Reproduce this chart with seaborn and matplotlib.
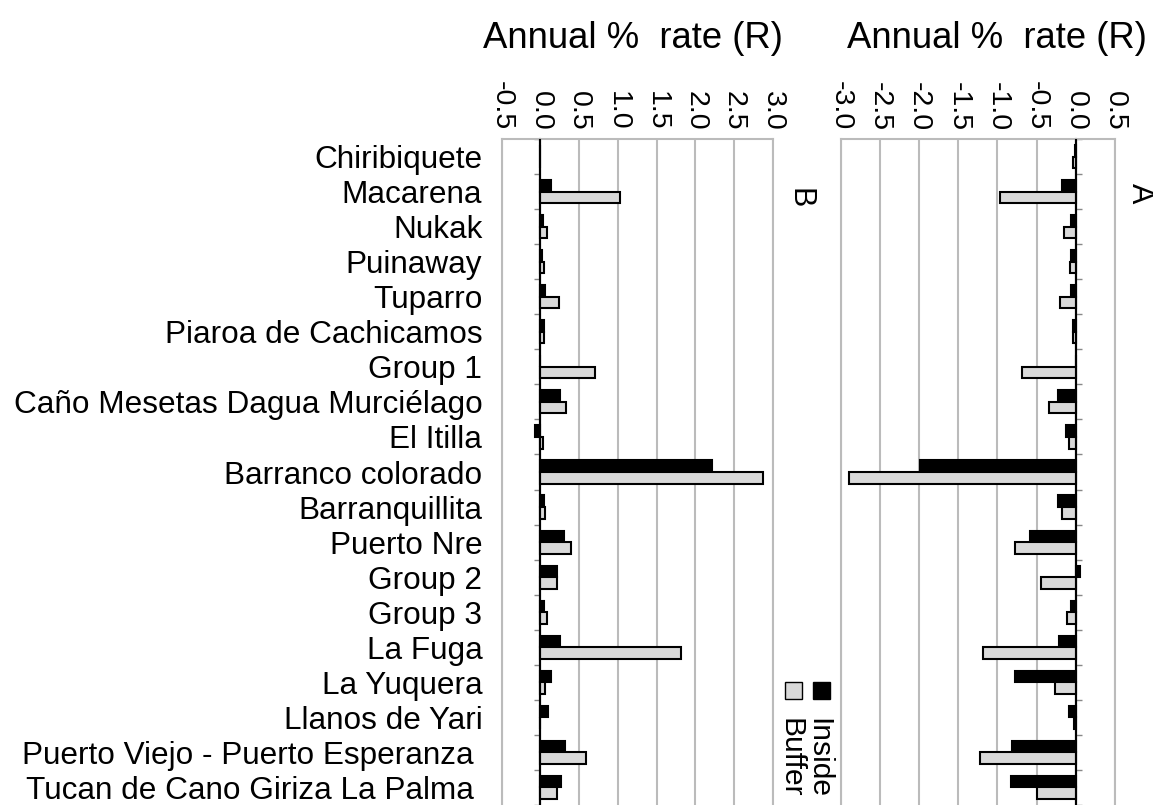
import matplotlib
matplotlib.use("Agg")
import matplotlib.pyplot as plt
import seaborn as sns
import pandas as pd
from matplotlib.patches import Rectangle

sites = ["Chiribiquete", "Macarena", "Nukak", "Puinaway", "Tuparro",
         "Piaroa de Cachicamos", "Group 1", "Caño Mesetas Dagua Murciélago",
         "El Itilla", "Barranco colorado", "Barranquillita", "Puerto Nre",
         "Group 2", "Group 3", "La Fuga", "La Yuquera", "Llanos de Yari",
         "Puerto Viejo - Puerto Esperanza ", "Tucan de Cano Giriza La Palma "]

b_inside = [0.0, 0.14, 0.03, 0.02, 0.06, 0.04, 0.0, 0.25, -0.07, 2.21,
            0.05, 0.30, 0.22, 0.05, 0.25, 0.14, 0.10, 0.32, 0.26]
b_buffer = [0.0, 1.03, 0.08, 0.04, 0.24, 0.04, 0.71, 0.33, 0.03, 2.87,
            0.06, 0.39, 0.21, 0.08, 1.82, 0.06, 0.0, 0.59, 0.21]

a_inside = [-0.01, -0.17, -0.06, -0.06, -0.06, -0.03, 0.0, -0.23, -0.13, -1.99,
            -0.23, -0.59, 0.05, -0.06, -0.21, -0.78, -0.09, -0.81, -0.83]
a_buffer = [-0.03, -0.97, -0.15, -0.07, -0.20, -0.03, -0.69, -0.34, -0.09, -2.89,
            -0.18, -0.77, -0.45, -0.11, -1.19, -0.26, -0.02, -1.22, -0.50]

series = ["Inside", "Buffer"]
b_ticks = [-0.5, 0.0, 0.5, 1.0, 1.5, 2.0, 2.5, 3.0]
a_ticks = [-3.0, -2.5, -2.0, -1.5, -1.0, -0.5, 0.0, 0.5]
title_text = "Annual %  rate (R)"

sns.set_theme(style="white")
plt.rcParams["font.family"] = ["Liberation Sans", "DejaVu Sans"]
plt.rcParams["axes.unicode_minus"] = False
plt.rcParams["text.color"] = "black"
plt.rcParams["xtick.color"] = "black"
plt.rcParams["ytick.color"] = "black"
plt.rcParams["xtick.labelcolor"] = "black"
plt.rcParams["ytick.labelcolor"] = "black"

W, H = 1153, 805
fig = plt.figure(figsize=(W / 100, H / 100), dpi=100)

GRID = "#BBBBBB"
colors = {"Inside": "black", "Buffer": "#D9D9D9"}


def make_df(inside, buffer):
    return pd.DataFrame({
        "site": sites * 2,
        "rate": list(inside) + list(buffer),
        "type": ["Inside"] * len(sites) + ["Buffer"] * len(sites),
    })


def panel(rect, inside, buffer, ticks, show_labels):
    ax = fig.add_axes(rect)
    sns.barplot(data=make_df(inside, buffer), y="site", x="rate", hue="type",
                order=sites, hue_order=series, palette=colors, orient="h",
                width=0.66, saturation=1, edgecolor="black", linewidth=1.5,
                legend=False, ax=ax, zorder=2)
    ax.set_xlim(ticks[0], ticks[-1])
    ax.set_ylim(len(sites) - 0.5, -0.5)
    ax.set_xlabel("")
    ax.set_ylabel("")
    ax.xaxis.set_ticks_position("top")
    ax.set_xticks(ticks)
    ax.set_xticklabels([f"{t:.1f}" for t in ticks], rotation=-90,
                       fontsize=20.5, va="bottom", ha="center", color="black")
    ax.tick_params(axis="x", length=0, pad=6)
    ax.grid(axis="x", color=GRID, linewidth=1.5)
    ax.set_axisbelow(True)
    for side in ["top", "left", "right"]:
        ax.spines[side].set_color(GRID)
        ax.spines[side].set_linewidth(1.5)
    ax.spines["bottom"].set_visible(False)
    ax.tick_params(axis="y", length=0)
    ax.set_yticks(range(len(sites)))
    if show_labels:
        ax.set_yticklabels(sites, fontsize=22.7, color="black")
        ax.tick_params(axis="y", pad=14)
    else:
        ax.set_yticklabels([])
    # zero line with band-boundary ticks
    loc = (0 - ticks[0]) / (ticks[-1] - ticks[0])
    sec = ax.secondary_yaxis(loc)
    sec.set_yticks([i + 0.5 for i in range(-1, len(sites))])
    sec.tick_params(axis="y", length=4, width=1, color="#888888",
                    direction="out", labelleft=False, labelright=False)
    for s in sec.spines.values():
        s.set_color("black")
        s.set_linewidth(1.5)
    ax.axvline(0, color="black", linewidth=1.5, zorder=3)
    return ax


top_px = 139
axB = panel([501.7 / W, 0, 271.0 / W, (H - top_px) / H], b_inside, b_buffer,
            b_ticks, True)
axA = panel([840.7 / W, 0, 274.3 / W, (H - top_px) / H], a_inside, a_buffer,
            a_ticks, False)

fig.text(633 / W, 1 - 39 / H, title_text, fontsize=26.3,
         ha="center", va="center")
fig.text(997 / W, 1 - 39 / H, title_text, fontsize=26.3,
         ha="center", va="center")

fig.text(800 / W, 1 - 198 / H, "B", fontsize=22, rotation=-90,
         ha="center", va="center")
fig.text(1140 / W, 1 - 193 / H, "A", fontsize=22, rotation=-90,
         ha="center", va="center")

# rotated legend
sq = 17
for cx, lab in [(821.5, "Inside"), (793.5, "Buffer")]:
    fig.patches.append(Rectangle(((cx - sq / 2) / W, 1 - (690 + sq / 2) / H),
                                 sq / W, sq / H, transform=fig.transFigure,
                                 facecolor=colors[lab], edgecolor="black",
                                 linewidth=1.0))
    fig.text((cx - 3) / W, 1 - 718 / H, lab, fontsize=21.6, rotation=-90,
             ha="center", va="top")

fig.savefig("out.png", dpi=100)
